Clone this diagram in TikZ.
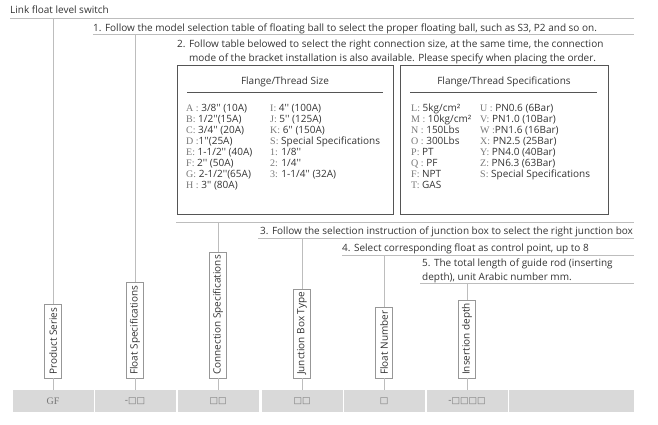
\documentclass[tikz,border=0pt]{standalone}
\usepackage{fontspec}
\setmainfont{Open Sans}[Ligatures=TeXOff]
\newfontfamily\codefont{Liberation Serif}
\newfontfamily\boxfont{DejaVu Sans}
\definecolor{textgray}{HTML}{333333}
\definecolor{linegray}{HTML}{BDBDBD}
\definecolor{boxgray}{HTML}{555555}
\definecolor{cellgray}{HTML}{D9D9D9}
\definecolor{codegray}{HTML}{777777}
\newcommand\code[1]{{\codefont\color{codegray}#1}}
\newcommand\sq{{\boxfont\fontsize{9}{10}\selectfont\char"25A1}}
\tikzset{
  guide/.style={draw=linegray, line width=0.8pt},
  itemtext/.style={anchor=base west, inner sep=0pt, text=textgray},
  tablebox/.style={draw=boxgray, line width=1pt},
  tablehead/.style={inner sep=0pt, text=textgray},
  rowtext/.style={anchor=base west, inner sep=0pt, text=textgray},
  fieldbox/.style={draw=linegray!80!black, fill=white, rotate=90, anchor=west,
    inner xsep=3pt, inner ysep=0pt, minimum height=17pt, text=textgray},
  codecell/.style={fill=cellgray, minimum width=81pt, minimum height=22pt,
    inner sep=0pt, text=codegray},
}
\begin{document}
\begin{tikzpicture}[x=1pt, y=-1pt, font=\fontsize{10}{13.5}\selectfont]
\useasboundingbox (0,0) rectangle (658,424);

% title and item texts
\node[itemtext] (title) at (10,13) {Link float level switch};
\node[itemtext] (s1) at (93,31) {1. Follow the model selection table of floating ball to select the proper floating ball, such as S3, P2 and so on.};
\node[itemtext, align=left] (s2) at (177,61) {2. Follow table belowed to select the right connection size, at the same time, the connection\\\phantom{2. }mode of the bracket installation is also available. Please specify when placing the order.};
\node[itemtext] (s3) at (260,234) {3. Follow the selection instruction of junction box to select the right junction box};
\node[itemtext] (s4) at (342,251) {4. Select corresponding float as control point, up to 8};
\node[itemtext, align=left] (s5) at (422,280) {5. The total length of guide rod (inserting\\depth), unit Arabic number mm.};

% rules under the items
\draw[guide] (10,18) -- (634,18);
\draw[guide] (93,34) -- (634,34);
\draw[guide] (176,222) -- (634,222);
\draw[guide] (258,238) -- (634,238);
\draw[guide] (342,255) -- (634,255);
\draw[guide] (420,283) -- (634,283);

% table 1
\draw[tablebox] (177,65) rectangle (393,214);
\node[tablehead] (h1) at (285,82) {Flange/Thread Size};
\draw[tablebox, line width=0.8pt] (187,92) -- (383,92);
\foreach \entry [count=\i from 0] in {
  {\code{A :} 3/8'' (10A)}, {\code{B:} 1/2''(15A)}, {\code{C:} 3/4'' (20A)},
  {\code{D :}1''(25A)}, {\code{E:} 1-1/2'' (40A)}, {\code{F:} 2'' (50A)},
  {\code{G:} 2-1/2''(65A)}, {\code{H :} 3'' (80A)}}
  \node[rowtext] (a\i) at (186,111+11.1*\i) {\entry};
\foreach \entry [count=\i from 0] in {
  {\code{I:} 4'' (100A)}, {\code{J:} 5'' (125A)}, {\code{K:} 6'' (150A)},
  {\code{S:} Special Specifications}, {\code{1:} 1/8''}, {\code{2:} 1/4''},
  {\code{3:} 1-1/4'' (32A)}}
  \node[rowtext] (b\i) at (270,111+11.1*\i) {\entry};

% table 2
\draw[tablebox] (400,65) rectangle (608,214);
\node[tablehead] (h2) at (504,82) {Flange/Thread Specifications};
\draw[tablebox, line width=0.8pt] (410,92) -- (597,92);
\foreach \entry [count=\i from 0] in {
  {\code{L:} 5kg/cm²}, {\code{M :} 10kg/cm²}, {\code{N :} 150Lbs},
  {\code{O :} 300Lbs}, {\code{P:} PT}, {\code{Q :} PF}, {\code{F:} NPT},
  {\code{T:} GAS}}
  \node[rowtext] (l\i) at (411,111+11.1*\i) {\entry};
\foreach \entry [count=\i from 0] in {
  {\code{U :} PN0.6 (6Bar)}, {\code{V:} PN1.0 (10Bar)}, {\code{W :}PN1.6 (16Bar)},
  {\code{X:} PN2.5 (25Bar)}, {\code{Y:} PN4.0 (40Bar)}, {\code{Z:} PN6.3 (63Bar)},
  {\code{S:} Special Specifications}}
  \node[rowtext] (u\i) at (480,111+11.1*\i) {\entry};

% field labels
\node[fieldbox] (ps) at (53,378) {Product Series};
\node[fieldbox] (fs) at (135,378) {Float Specifications};
\node[fieldbox] (cs) at (218,378) {Connection Specifications};
\node[fieldbox] (jb) at (302,378) {Junction Box Type};
\node[fieldbox] (fn) at (384,378) {Float Number};
\node[fieldbox] (id) at (467,378) {Insertion depth};

% code cells
\node[codecell] (c1) at (53,401) {\codefont GF};
\node[codecell] (c2) at (135,401) {-\sq\sq};
\node[codecell] (c3) at (218,401) {\sq\sq};
\node[codecell] (c4) at (302,401) {\sq\sq};
\node[codecell] (c5) at (384,401) {\sq};
\node[codecell] (c6) at (467,401) {-\sq\sq\sq\sq};
\node[codecell, minimum width=125pt] (c7) at (571.5,401) {};

% hangers
\coordinate (t1) at (53,18);
\coordinate (t2) at (135,34);
\coordinate (t3) at (218,222);
\coordinate (t4) at (302,238);
\coordinate (t5) at (384,255);
\coordinate (t6) at (467,283);
\draw[guide] (t1) -- (ps.east) (ps.west) -- (c1.north);
\draw[guide] (t2) -- (fs.east) (fs.west) -- (c2.north);
\draw[guide] (t3) -- (cs.east) (cs.west) -- (c3.north);
\draw[guide] (t4) -- (jb.east) (jb.west) -- (c4.north);
\draw[guide] (t5) -- (fn.east) (fn.west) -- (c5.north);
\draw[guide] (t6) -- (id.east) (id.west) -- (c6.north);
\end{tikzpicture}
\end{document}
